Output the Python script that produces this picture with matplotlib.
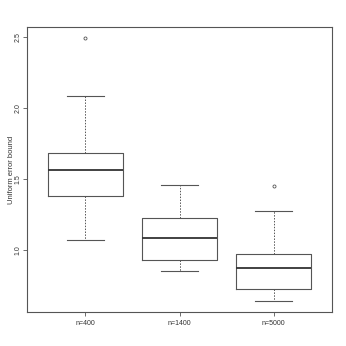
import matplotlib
matplotlib.use("Agg")
from matplotlib import pyplot as plt

# Box statistics
labels = ["n=400", "n=1400", "n=5000"]
whisker_low = [1.066, 0.852, 0.636]
box_low = [1.382, 0.930, 0.725]
medians = [1.563, 1.080, 0.871]
box_high = [1.681, 1.223, 0.970]
whisker_high = [2.082, 1.458, 1.275]
outliers = [[2.49], [], [1.453]]

y_ticks = [1.0, 1.5, 2.0, 2.5]

plt.rcParams["font.family"] = ["Liberation Sans", "DejaVu Sans"]
line_color = "#555555"

fig = plt.figure(figsize=(3.46, 3.46), dpi=100)
ax = fig.add_axes([27 / 346, 34 / 346, 305 / 346, 285 / 346])

stats = []
for i, label in enumerate(labels):
    stats.append({
        "label": label,
        "whislo": whisker_low[i],
        "q1": box_low[i],
        "med": medians[i],
        "q3": box_high[i],
        "whishi": whisker_high[i],
        "fliers": outliers[i],
    })

ax.bxp(
    stats, positions=range(1, len(labels) + 1), widths=0.8,
    showfliers=True,
    boxprops={"color": line_color, "linewidth": 0.8},
    medianprops={"color": "#333333", "linewidth": 1.3},
    whiskerprops={"color": line_color, "linewidth": 0.7,
                  "linestyle": (0, (1.5, 1.5))},
    capprops={"color": line_color, "linewidth": 0.8},
    capwidths=0.4,
    flierprops={"marker": "o", "markersize": 2.2, "markerfacecolor": "none",
                "markeredgecolor": line_color, "markeredgewidth": 0.6},
)

ax.set_xlim(0.38, 3.62)
ax.set_ylim(0.562, 2.57)
ax.set_yticks(y_ticks)
ax.set_yticklabels([f"{t:.1f}" for t in y_ticks], rotation=90, va="center")
ax.set_xticks(range(1, len(labels) + 1))
ax.set_xticklabels(labels)
ax.tick_params(labelsize=5, length=3, width=0.6, color=line_color,
               labelcolor="#333333", pad=0.8)
ax.tick_params(axis="x", pad=3)
ax.set_ylabel("Uniform error bound", fontsize=5.5, color="#333333")
ax.yaxis.set_label_coords(-0.04, 0.5)
for spine in ax.spines.values():
    spine.set_color(line_color)
    spine.set_linewidth(0.8)

fig.savefig("out.png", dpi=100)
